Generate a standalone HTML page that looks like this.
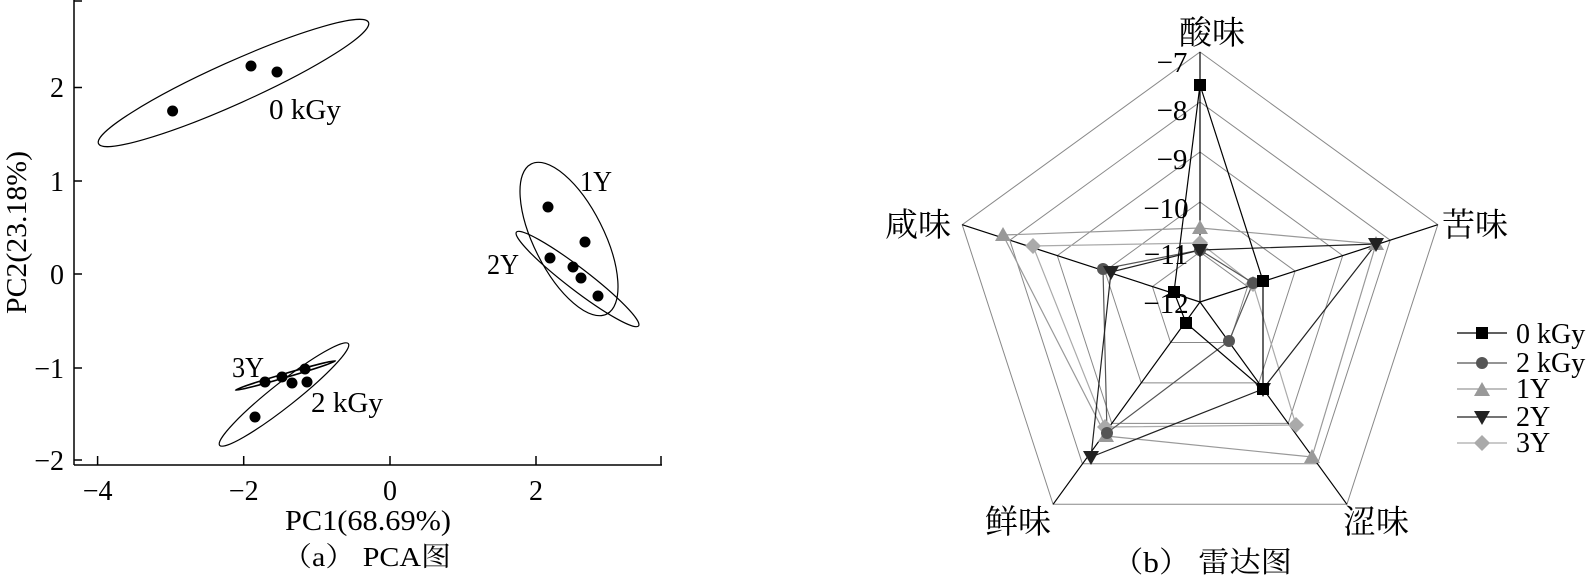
<!DOCTYPE html>
<html><head><meta charset="utf-8"><style>
html,body{margin:0;padding:0;background:#fff;}
svg{display:block;}
text{font-family:"Liberation Serif","Noto Serif CJK SC",serif;fill:#000;}
</style></head><body>
<svg width="1595" height="576" viewBox="0 0 1595 576" xmlns="http://www.w3.org/2000/svg">
<!-- PCA -->
<g stroke="#000" stroke-width="1.5" fill="none">
<line x1="74" y1="0" x2="74" y2="465"/>
<line x1="74" y1="465" x2="662" y2="465"/>
<line x1="74" y1="1" x2="82" y2="1"/>
<line x1="74" y1="87.5" x2="82" y2="87.5"/>
<line x1="74" y1="181" x2="82" y2="181"/>
<line x1="74" y1="274" x2="82" y2="274"/>
<line x1="74" y1="368" x2="82" y2="368"/>
<line x1="74" y1="460" x2="82" y2="460"/>
<line x1="97.6" y1="465" x2="97.6" y2="456"/>
<line x1="243.7" y1="465" x2="243.7" y2="456"/>
<line x1="390" y1="465" x2="390" y2="456"/>
<line x1="536" y1="465" x2="536" y2="456"/>
<line x1="661" y1="465" x2="661" y2="456"/>
</g>
<g stroke="#000" stroke-width="1.2" fill="none">
<ellipse cx="233.5" cy="83" rx="148" ry="21" transform="rotate(-24.2 233.5 83)"/>
<ellipse cx="569" cy="239" rx="84" ry="35" transform="rotate(63.3 569 239)"/>
<ellipse cx="577.5" cy="279" rx="77" ry="11" transform="rotate(37.5 577.5 279)"/>
<ellipse cx="284" cy="394.5" rx="82" ry="12" transform="rotate(-38.3 284 394.5)"/>
<ellipse cx="285.5" cy="375.5" rx="52" ry="2" stroke-width="1.6" transform="rotate(-16.3 285.5 375.5)"/>
</g>
<g fill="#000">
<circle cx="172.6" cy="111" r="5.5"/><circle cx="251" cy="66" r="5.5"/><circle cx="277" cy="72" r="5.5"/>
<circle cx="548" cy="207" r="5.5"/><circle cx="585" cy="242" r="5.5"/>
<circle cx="550" cy="258" r="5.5"/><circle cx="573" cy="267" r="5.5"/><circle cx="581" cy="278" r="5.5"/><circle cx="598" cy="296" r="5.5"/>
<circle cx="265" cy="382" r="5.5"/><circle cx="282" cy="377" r="5.5"/><circle cx="305" cy="369" r="5.5"/><circle cx="292" cy="383" r="5.5"/><circle cx="307" cy="382" r="5.5"/><circle cx="255" cy="417" r="5.5"/>
</g>
<g font-size="29">
<text x="269" y="119" textLength="72" lengthAdjust="spacingAndGlyphs">0 kGy</text>
<text x="580" y="191" textLength="32" lengthAdjust="spacingAndGlyphs">1Y</text>
<text x="487" y="274" textLength="32" lengthAdjust="spacingAndGlyphs">2Y</text>
<text x="232" y="377" textLength="32" lengthAdjust="spacingAndGlyphs">3Y</text>
<text x="311" y="412" textLength="72" lengthAdjust="spacingAndGlyphs">2 kGy</text>
</g>
<g font-size="28" text-anchor="end">
<text x="64" y="97">2</text>
<text x="64" y="191">1</text>
<text x="64" y="284">0</text>
<text x="64" y="378">−1</text>
<text x="64" y="470">−2</text>
</g>
<g font-size="28" text-anchor="middle">
<text x="97.6" y="500">−4</text>
<text x="243.7" y="500">−2</text>
<text x="390" y="500">0</text>
<text x="536" y="500">2</text>
</g>
<text x="285" y="530" font-size="29" textLength="166" lengthAdjust="spacingAndGlyphs">PC1(68.69%)</text>
<text transform="translate(26 314) rotate(-90)" font-size="29" textLength="163" lengthAdjust="spacingAndGlyphs">PC2(23.18%)</text>
<text x="282" y="566" font-size="27" textLength="169" lengthAdjust="spacingAndGlyphs">（a） PCA图</text>

<!-- Radar -->
<g stroke="#888" stroke-width="1" fill="none">
<polygon points="1200,52 1437.8,224.7 1346.9,504.3 1053.1,504.3 962.2,224.7"/>
<polygon points="1200,102 1390.2,240.2 1317.6,463.8 1082.4,463.8 1009.8,240.2"/>
<polygon points="1200,152 1342.7,255.6 1288.2,423.4 1111.8,423.4 1057.3,255.6"/>
<polygon points="1200,202 1295.1,271.1 1258.8,382.9 1141.2,382.9 1104.9,271.1"/>
<polygon points="1200,252 1247.6,286.6 1229.4,342.5 1170.6,342.5 1152.4,286.6"/>
</g>
<g stroke="#000" stroke-width="1.2">
<line x1="1200" y1="302" x2="1200" y2="52"/>
<line x1="1200" y1="302" x2="1437.8" y2="224.7"/>
<line x1="1200" y1="302" x2="1346.9" y2="504.3"/>
<line x1="1200" y1="302" x2="1053.1" y2="504.3"/>
<line x1="1200" y1="302" x2="962.2" y2="224.7"/>
</g>
<g fill="none" stroke-width="1.2">
<polygon stroke="#aaa" points="1200,243 1253,284 1296,425 1105,427 1033,246"/>
<polygon stroke="#999" points="1200,228 1376,244 1312,457 1106,436 1003,235"/>
<polygon stroke="#555" points="1200,250 1253,283 1229,341 1107,433 1103,269"/>
<polygon stroke="#222" points="1200,250 1376,244 1263,389 1091,457 1111,272"/>
<polygon stroke="#000" points="1200,85 1263,281 1263,389 1186,323 1174,292"/>
</g>
<g fill="#aaa">
<polygon points="1200,235 1208,243 1200,251 1192,243"/><polygon points="1253,276 1261,284 1253,292 1245,284"/><polygon points="1296,417 1304,425 1296,433 1288,425"/><polygon points="1105,419 1113,427 1105,435 1097,427"/><polygon points="1033,238 1041,246 1033,254 1025,246"/>
</g>
<g fill="#999">
<polygon points="1200,220 1208,234 1192,234"/><polygon points="1376,236 1384,250 1368,250"/><polygon points="1312,449 1320,463 1304,463"/><polygon points="1106,428 1114,442 1098,442"/><polygon points="1003,227 1011,241 995,241"/>
</g>
<g fill="#555">
<circle cx="1200" cy="250" r="6"/><circle cx="1253" cy="283" r="6"/><circle cx="1229" cy="341" r="6"/><circle cx="1107" cy="433" r="6"/><circle cx="1103" cy="269" r="6"/>
</g>
<g fill="#222">
<polygon points="1192,244 1208,244 1200,258"/><polygon points="1368,238 1384,238 1376,252"/><polygon points="1255,383 1271,383 1263,397"/><polygon points="1083,451 1099,451 1091,465"/><polygon points="1103,266 1119,266 1111,280"/>
</g>
<g fill="#000">
<rect x="1194" y="79" width="12" height="12"/><rect x="1257" y="275" width="12" height="12"/><rect x="1257" y="383" width="12" height="12"/><rect x="1180" y="317" width="12" height="12"/><rect x="1168" y="286" width="12" height="12"/>
</g>
<g font-size="29" text-anchor="middle">
<text x="1172" y="72">−7</text>
<text x="1172" y="120">−8</text>
<text x="1172" y="169">−9</text>
<text x="1166" y="218">−10</text>
<text x="1166" y="264">−11</text>
<text x="1166" y="313">−12</text>
</g>
<g font-size="33">
<text x="1212" y="44" text-anchor="middle">酸味</text>
<text x="1442" y="236">苦味</text>
<text x="885" y="236">咸味</text>
<text x="985" y="533">鲜味</text>
<text x="1343" y="533">涩味</text>
</g>
<text x="1112" y="572" font-size="29" textLength="180" lengthAdjust="spacingAndGlyphs">（b） 雷达图</text>
<g stroke-width="1.2">
<line x1="1457" y1="333" x2="1507" y2="333" stroke="#000"/>
<line x1="1457" y1="363" x2="1507" y2="363" stroke="#555"/>
<line x1="1457" y1="389" x2="1507" y2="389" stroke="#999"/>
<line x1="1457" y1="417" x2="1507" y2="417" stroke="#222"/>
<line x1="1457" y1="443" x2="1507" y2="443" stroke="#aaa"/>
</g>
<rect x="1476" y="327" width="12" height="12" fill="#000"/>
<circle cx="1482" cy="363" r="6" fill="#555"/>
<polygon points="1482,382 1490,396 1474,396" fill="#999"/>
<polygon points="1474,411 1490,411 1482,425" fill="#222"/>
<polygon points="1482,435 1490,443 1482,451 1474,443" fill="#aaa"/>
<g font-size="28">
<text x="1516" y="343">0 kGy</text>
<text x="1516" y="372">2 kGy</text>
<text x="1516" y="398">1Y</text>
<text x="1516" y="426">2Y</text>
<text x="1516" y="452">3Y</text>
</g>
</svg>
</body></html>
